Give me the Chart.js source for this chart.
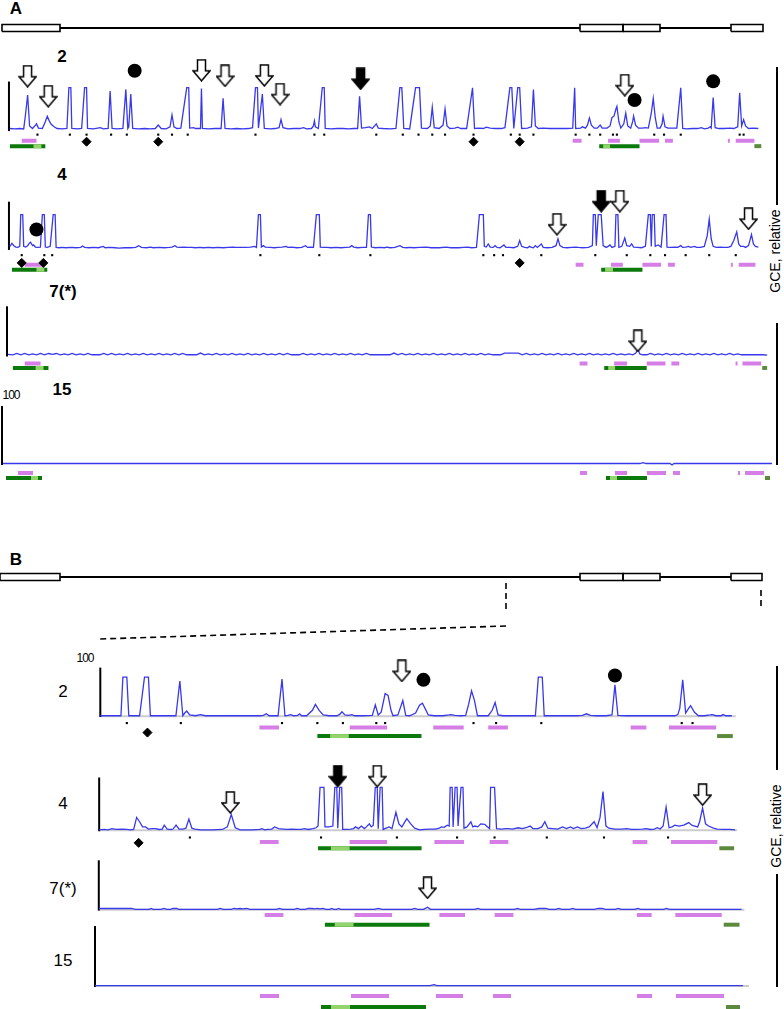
<!DOCTYPE html>
<html><head><meta charset="utf-8">
<script src="https://cdn.jsdelivr.net/npm/chart.js@4/dist/chart.umd.min.js"></script>
<style>
html,body{margin:0;padding:0;background:#fff}
body{width:784px;height:1009px;position:relative;overflow:hidden;font-family:"Liberation Sans",Arial,sans-serif;color:#000}
canvas{position:absolute;left:0}
.lbl{position:absolute;transform:translate(-50%,-50%);white-space:nowrap;line-height:1}
.b{font-weight:bold}
.bar{position:absolute;width:2px;background:#000}
</style></head>
<body>
<div class="lbl b" style="left:16px;top:8px;font-size:17px">A</div>
<div class="lbl b" style="left:16px;top:559px;font-size:17px">B</div>
<div class="lbl b" style="left:62px;top:56px;font-size:17px">2</div>
<div class="lbl b" style="left:62px;top:174px;font-size:17px">4</div>
<div class="lbl b" style="left:63px;top:291px;font-size:17px">7(*)</div>
<div class="lbl b" style="left:62px;top:389px;font-size:17px">15</div>
<div class="lbl" style="left:11px;top:395px;font-size:12px;letter-spacing:-1px">100</div>
<div class="lbl" style="left:63px;top:691px;font-size:17px">2</div>
<div class="lbl" style="left:63px;top:803px;font-size:17px">4</div>
<div class="lbl" style="left:63px;top:888px;font-size:17px">7(*)</div>
<div class="lbl" style="left:63px;top:960px;font-size:17px">15</div>
<div class="lbl" style="left:85px;top:658px;font-size:12px;letter-spacing:-1px">100</div>
<div class="lbl" style="left:775px;top:251px;font-size:14px;transform:translate(-50%,-50%) rotate(-90deg)">GCE, relative</div>
<div class="lbl" style="left:776px;top:826px;font-size:14px;transform:translate(-50%,-50%) rotate(-90deg)">GCE, relative</div>
<div class="bar" style="left:776px;top:67px;height:138px"></div>
<div class="bar" style="left:776px;top:323px;height:142px"></div>
<div class="bar" style="left:776px;top:666px;height:104px"></div>
<div class="bar" style="left:776px;top:874px;height:113px"></div>
<script>
// ---------------- DATA ----------------
// gene model (exon start/end positions)
const exonsA = [[2,60],[580,623],[623,660],[731,763]];
const exonsB = [[0,60],[580,623],[623,660],[731,762]];
const zoomRegion = [506, 761];      // region of the gene expanded in panel B
const zoomTraceStart = 100;

// Panel A traces [position, GCE %]
const A2_trace = [[3,4],[8,3],[13,4],[17,3],[19,40],[21,83],[23,10],[26,4],[29,12],[30,15],[32,5],[36,4],[39,20],[41,33],[43,22],[45,14],[48,8],[51,4],[56,3],[61,4],[63,100],[65,100],[66,4],[72,3],[76,4],[79,100],[81,100],[82,4],[88,3],[95,6],[98,3],[103,4],[105,92],[107,4],[112,3],[118,4],[121,96],[123,4],[124,8],[126,85],[128,4],[134,3],[140,4],[146,3],[151,4],[154,12],[157,4],[162,3],[166,8],[168,36],[170,8],[173,4],[177,5],[183,100],[185,100],[186,5],[190,6],[192,4],[197,4],[198,98],[199,4],[205,3],[212,4],[218,4],[220,75],[222,4],[228,3],[234,4],[240,3],[246,4],[250,6],[253,100],[255,100],[256,5],[260,85],[262,4],[268,3],[273,4],[277,6],[279,25],[281,6],[286,3],[292,4],[298,4],[302,6],[305,3],[310,4],[312,10],[313,22],[314,8],[317,4],[321,100],[323,100],[324,4],[330,3],[336,4],[342,4],[348,3],[353,4],[357,4],[359,80],[361,5],[365,6],[369,8],[372,4],[376,15],[378,5],[383,4],[390,3],[396,4],[400,100],[402,100],[404,4],[410,3],[416,100],[418,100],[420,100],[422,5],[428,4],[431,10],[433,54],[435,6],[440,4],[444,12],[446,50],[448,10],[451,4],[456,5],[459,7],[462,4],[468,4],[474,100],[476,4],[480,5],[485,4],[488,7],[492,5],[497,4],[503,4],[507,6],[512,100],[514,100],[516,4],[520,100],[522,100],[524,4],[530,5],[534,8],[536,96],[538,10],[541,4],[546,5],[552,4],[558,4],[564,4],[570,4],[576,5],[578,100],[579,4],[584,5],[586,8],[589,5],[591,12],[593,29],[595,12],[598,5],[601,5],[604,12],[606,5],[611,5],[614,10],[616,30],[618,33],[620,50],[621,56],[623,20],[625,5],[628,15],[630,40],[632,10],[635,5],[637,20],[638,33],[640,12],[643,5],[647,5],[650,6],[653,5],[656,40],[658,75],[660,30],[662,5],[665,5],[667,15],[668,33],[670,8],[673,5],[678,5],[682,5],[686,100],[688,4],[692,3],[698,4],[703,4],[707,6],[710,3],[714,5],[716,8],[717,5],[719,77],[721,6],[725,4],[730,4],[736,5],[740,4],[744,8],[746,88],[748,10],[750,25],[752,10],[755,4],[760,5],[765,4]];
const A4_trace = [[3,8],[5,17],[7,10],[9,6],[11,5],[13,8],[14,100],[16,100],[17,8],[19,6],[21,10],[23,18],[24,20],[26,10],[27,12],[29,6],[31,5],[34,6],[36,100],[38,100],[39,6],[41,5],[44,8],[47,100],[49,100],[50,5],[53,4],[56,5],[60,4],[66,5],[70,4],[75,5],[77,9],[79,5],[84,4],[88,5],[93,4],[98,8],[100,4],[105,5],[110,4],[114,3],[120,4],[126,4],[131,5],[134,10],[137,5],[142,4],[146,6],[149,4],[155,5],[160,4],[165,5],[168,6],[171,10],[173,6],[176,5],[180,6],[184,5],[188,5],[192,4],[196,5],[200,4],[205,5],[210,4],[215,5],[220,4],[225,5],[230,6],[233,5],[238,5],[243,5],[248,6],[252,8],[254,5],[256,100],[258,100],[259,6],[261,10],[263,6],[268,5],[272,4],[276,5],[280,6],[284,8],[286,5],[290,6],[295,4],[300,5],[304,10],[306,5],[309,6],[312,5],[315,100],[318,100],[319,6],[322,5],[326,5],[330,4],[335,5],[340,4],[345,5],[349,6],[351,10],[353,6],[357,4],[362,5],[366,5],[368,100],[370,100],[371,6],[375,4],[380,5],[384,4],[387,6],[390,4],[395,5],[400,10],[403,5],[407,4],[410,5],[414,4],[420,5],[427,6],[432,4],[440,4],[447,6],[452,4],[460,4],[465,5],[469,6],[473,4],[478,5],[481,100],[483,100],[485,100],[486,8],[488,6],[490,15],[492,6],[495,5],[497,10],[499,5],[502,4],[506,12],[508,5],[512,5],[516,4],[520,8],[522,25],[524,8],[527,5],[530,4],[532,8],[534,5],[536,4],[538,10],[540,5],[544,15],[546,5],[550,4],[555,5],[559,10],[561,30],[563,10],[566,5],[570,4],[575,5],[579,6],[582,5],[586,4],[592,5],[596,10],[597,100],[599,100],[600,10],[602,100],[605,100],[607,10],[610,5],[612,8],[614,12],[616,5],[619,8],[620,100],[622,100],[623,5],[626,8],[629,32],[631,10],[634,8],[636,15],[638,6],[642,5],[646,4],[650,8],[653,100],[655,100],[656,8],[657,100],[659,100],[660,8],[663,12],[666,6],[669,100],[671,100],[672,6],[676,5],[680,6],[683,5],[686,10],[688,5],[691,6],[694,8],[696,5],[700,8],[702,5],[706,5],[710,8],[713,40],[715,87],[717,30],[719,8],[722,5],[726,6],[730,5],[734,5],[737,8],[740,25],[743,50],[745,15],[747,8],[750,8],[752,5],[755,10],[758,42],[760,15],[762,8],[765,6]];
const A7_trace = [[3,3],[8,2],[12,5],[16,2],[20,5],[24,2],[28,4],[32,2],[36,5],[40,2],[44,5],[48,3],[52,5],[56,2],[60,4],[64,2],[68,5],[72,2],[76,4],[80,2],[84,5],[88,2],[92,2],[96,2],[100,5],[104,2],[108,5],[112,2],[116,4],[120,2],[124,5],[128,2],[132,4],[136,2],[140,5],[144,2],[148,4],[152,2],[156,5],[160,2],[164,4],[168,2],[172,5],[176,2],[180,5],[184,2],[188,2],[194,2],[198,6],[202,2],[206,4],[210,2],[214,5],[218,2],[222,4],[226,2],[230,5],[234,2],[238,4],[242,2],[246,5],[250,2],[254,4],[258,2],[262,5],[266,2],[270,4],[274,2],[278,5],[282,2],[286,5],[290,2],[294,2],[298,2],[302,5],[306,2],[310,4],[314,2],[318,5],[322,2],[326,4],[330,2],[334,5],[338,2],[342,4],[346,2],[350,5],[354,2],[358,4],[362,2],[366,5],[370,2],[374,2],[380,2],[386,2],[390,2],[394,6],[398,2],[402,5],[406,2],[410,4],[414,2],[418,5],[422,2],[426,4],[430,2],[434,5],[438,2],[442,4],[446,2],[450,5],[454,2],[458,4],[462,2],[466,5],[470,2],[474,4],[478,2],[482,5],[486,2],[490,4],[494,2],[498,2],[502,2],[506,6],[512,6],[520,6],[524,2],[528,5],[532,2],[536,4],[540,2],[544,5],[548,2],[552,4],[556,2],[560,5],[564,2],[568,4],[572,2],[576,5],[580,2],[584,4],[588,2],[592,5],[596,2],[600,4],[604,2],[608,4],[612,2],[616,5],[620,2],[624,4],[628,2],[632,4],[636,2],[639,6],[641,15],[643,4],[646,2],[650,2],[654,5],[658,2],[662,4],[666,2],[670,5],[674,2],[678,4],[682,2],[686,5],[690,2],[694,4],[698,2],[702,5],[706,2],[710,4],[714,2],[718,5],[722,2],[726,4],[730,2],[734,5],[738,2],[742,4],[746,2],[752,2],[760,2],[768,2],[772,1]];
const A15_trace = [[3,1],[200,1],[400,1],[600,1],[640,1],[643,3],[646,1],[670,1],[672,-2],[674,1],[772,1]];

// Panel B traces (zoomed region)
const B2_trace = [[95,1],[100,1],[110,1],[116,1],[118,100],[122,100],[124,1],[135,1],[140,100],[144,100],[146,1],[160,1],[172,1],[176,90],[179,1],[181,8],[183,13],[186,3],[192,1],[197,4],[202,1],[220,1],[240,1],[258,1],[261,2],[264,6],[267,1],[276,1],[280,95],[283,1],[286,2],[289,4],[292,1],[296,2],[298,6],[300,1],[305,1],[311,15],[314,30],[318,14],[322,3],[328,1],[336,1],[339,5],[341,11],[344,3],[348,2],[351,4],[354,1],[362,1],[372,2],[375,29],[378,3],[381,10],[385,58],[388,53],[391,15],[393,1],[398,3],[403,40],[406,2],[410,1],[416,8],[420,28],[423,33],[426,18],[429,3],[435,1],[444,1],[450,3],[452,4],[456,2],[462,1],[467,2],[470,30],[473,65],[476,40],[479,1],[490,1],[494,15],[497,35],[500,3],[505,1],[520,1],[538,1],[541,100],[545,100],[547,1],[560,1],[580,1],[586,2],[590,6],[594,2],[600,1],[610,1],[616,3],[619,80],[622,2],[630,1],[650,1],[670,1],[680,1],[683,4],[685,20],[688,93],[691,8],[694,20],[696,27],[700,10],[704,1],[710,1],[716,3],[718,4],[722,1],[727,1],[729,4],[732,1],[738,1]];
const B4_trace = [[95,1],[100,2],[104,1],[108,4],[112,2],[118,3],[123,2],[127,1],[130,2],[133,30],[136,20],[139,8],[142,8],[145,3],[149,4],[152,4],[156,2],[159,3],[161,12],[164,3],[168,2],[170,3],[173,12],[176,3],[180,3],[183,5],[186,26],[189,5],[192,3],[198,1],[210,1],[220,2],[225,8],[229,37],[233,6],[238,1],[250,1],[258,2],[260,4],[263,1],[266,2],[270,3],[273,8],[277,4],[282,3],[286,2],[290,3],[296,2],[300,2],[303,4],[307,2],[312,4],[315,6],[317,10],[319,100],[321,100],[323,100],[324,8],[328,8],[332,10],[334,100],[336,100],[337,5],[339,100],[341,100],[342,2],[346,2],[350,3],[353,4],[355,8],[358,4],[361,10],[364,4],[366,8],[369,15],[371,8],[373,12],[375,100],[377,100],[378,4],[380,100],[382,100],[383,2],[386,5],[389,8],[392,4],[396,42],[399,15],[402,8],[407,27],[411,15],[415,5],[420,1],[425,2],[430,3],[436,3],[440,5],[442,8],[445,7],[448,12],[450,10],[451,100],[453,100],[454,8],[456,100],[458,100],[459,10],[462,100],[464,100],[465,5],[468,8],[472,20],[474,8],[476,10],[479,8],[482,15],[486,14],[489,8],[491,4],[492,100],[496,100],[498,4],[503,3],[507,4],[510,4],[514,3],[520,6],[524,4],[528,6],[532,10],[535,4],[540,4],[544,8],[547,20],[550,5],[555,4],[560,3],[565,8],[569,4],[573,8],[576,4],[580,8],[584,4],[588,5],[592,8],[597,20],[600,6],[603,30],[606,90],[609,10],[612,5],[618,3],[625,3],[630,4],[635,2],[640,2],[646,3],[650,4],[654,2],[658,3],[661,6],[664,3],[667,10],[670,54],[673,6],[676,8],[679,12],[683,10],[688,12],[693,18],[696,12],[699,10],[702,8],[704,20],[707,52],[710,15],[713,10],[718,5],[722,3],[728,2],[735,2],[740,1]];
const B7_trace = [[95,3],[110,3],[128,3],[132,1],[140,1],[146,1],[148,3],[150,1],[158,1],[161,3],[164,1],[168,1],[170,3],[174,3],[176,1],[200,1],[215,1],[218,3],[221,1],[229,1],[232,3],[235,2],[238,3],[241,2],[245,3],[248,1],[275,1],[278,3],[281,1],[293,1],[296,3],[299,1],[304,1],[307,3],[311,3],[314,2],[316,3],[319,2],[322,3],[325,1],[329,1],[331,3],[333,1],[336,1],[338,3],[340,1],[374,1],[378,3],[382,1],[412,1],[415,3],[418,1],[424,1],[428,6],[431,1],[476,1],[479,3],[482,1],[516,1],[519,3],[522,1],[536,1],[541,3],[545,3],[548,3],[551,1],[558,1],[561,3],[564,1],[572,1],[575,3],[578,1],[597,1],[601,3],[605,3],[608,1],[618,1],[621,3],[624,1],[638,1],[641,3],[644,1],[667,1],[670,3],[673,1],[746,1]];
const B15_trace = [[95,1],[430,1],[434,3],[437,1],[743,1]];

// marks: CpG dots, diamonds, arrows, circles
const A2_dots = [31,64,81,106,122,154,168,184,253,313,323,376,403,419,433,446,475,513,522,536,579,593,604,617,621,659,669,686,746,750];
const A2_diamonds = [81,154,475,522];
const A4_dots = [15,38,46,258,318,370,485,496,505,544,599,631,655,670,691,715,742];
const A4_diamonds = [15,37,522];
const B2_dots = [122,177,280,316,342,376,385,475,498,544,687,698];
const B2_diamonds = [143];
const B4_dots = [187,320,397,458,496,549,607,672];
const B4_diamonds = [135];
// arrows / circles: [position, level]
const A2_openArrows = [[21,127],[42,80],[198,141],[222,128],[262,129],[278,85],[629,106]];
const A2_filledArrows = [[360,121]];
const A2_circles = [[130,140],[639,71],[719,115]];
const A4_openArrows = [[560,72],[624,139],[755,88]];
const A4_filledArrows = [[605,139]];
const A4_circles = [[30,57]];
const A7_openArrows = [[641,35]];
const B2_openArrows = [[402,116]];
const B2_circles = [[424,93],[619,104]];
const B4_openArrows = [[228,65],[377,126],[707,83]];
const B4_filledArrows = [[337,126]];
const B7_openArrows = [[428,54]];

// region bars: pink, green (with light sub-part), olive
const A2_pink = [[15,30],[576,585],[612,624],[644,664],[670,678],[734,736],[742,761]];
const A2_green = [[3,39],[603,644]];  const A2_light = [[27,35],[607,614]];  const A2_olive = [[761,768]];
const A4_pink = [[18,36],[579,587],[615,627],[647,666],[673,680],[737,739],[745,762]];
const A4_green = [[5,41],[605,647]];  const A4_light = [[30,38],[609,617]];  const A4_olive = [];
const A7_pink = [[20,36],[582,590],[617,630],[650,669],[675,683],[740,742],[747,766]];
const A7_green = [[8,44],[607,650]];  const A7_light = [[31,39],[611,618]];  const A7_olive = [[767,772]];
const A15_pink = [[18,33],[580,587],[615,627],[647,666],[673,680],[738,740],[745,764]];
const A15_green = [[6,42],[606,647]]; const A15_light = [[31,38],[610,617]]; const A15_olive = [[765,770]];
const B2_pink = [[257,277],[349,387],[434,465],[490,510],[635,651],[674,722]];
const B2_green = [[316,422]]; const B2_light = [[329,348]]; const B2_olive = [[723,739]];
const B4_pink = [[258,277],[349,387],[435,465],[491,510],[636,651],[675,722]];
const B4_green = [[317,422]]; const B4_light = [[330,349]]; const B4_olive = [[724,739]];
const B7_pink = [[263,282],[354,392],[440,466],[496,515],[640,655],[679,726]];
const B7_green = [[324,430]]; const B7_light = [[334,353]]; const B7_olive = [[728,744]];
const B15_pink = [[260,279],[351,389],[436,463],[493,511],[637,652],[676,724]];
const B15_green = [[321,426]]; const B15_light = [[331,350]]; const B15_olive = [[726,740]];

// ---------------- DRAWING ----------------
const BLUE = '#3838ec', PINK = '#d57ee6', GREEN = '#0b790b', LIGHT = '#93d46c', OLIVE = '#5c8a3c';
const W = 784;
function arrowImg(filled){
  const c = document.createElement('canvas'); c.width = 19; c.height = 23;
  const g = c.getContext('2d');
  g.beginPath();
  g.moveTo(5.5,1); g.lineTo(13.5,1); g.lineTo(13.5,12); g.lineTo(18,12); g.lineTo(9.5,22); g.lineTo(1,12); g.lineTo(5.5,12); g.closePath();
  g.fillStyle = filled ? '#000' : '#fff'; g.fill();
  g.lineWidth = 1.5; g.strokeStyle = '#000'; g.stroke();
  return c;
}
const OPEN = arrowImg(false), FILLED = arrowImg(true);

function baseOpts(yMin, yMax){
  return {responsive:false, animation:false, events:[], layout:{padding:0},
    plugins:{legend:{display:false}, tooltip:{enabled:false}},
    elements:{point:{radius:0}, line:{tension:0, borderCapStyle:'butt'}},
    scales:{x:{type:'linear', display:false, min:0, max:W}, y:{type:'linear', display:false, min:yMin, max:yMax}}};
}
// later datasets are painted on top of earlier ones
function stackOrder(ds){ ds.forEach((d, i) => { d.order = ds.length - i; }); return ds; }
function addCanvas(top, h){
  const cv = document.createElement('canvas'); cv.width = W; cv.height = h; cv.style.top = top + 'px';
  document.body.appendChild(cv); return cv;
}
function rangeData(ranges, y){
  const d = [];
  ranges.forEach(([a,b]) => { d.push({x:a,y}, {x:b,y}, {x:b,y:null}); });
  return d;
}
function pts(list, y){ return list.map(x => ({x, y})); }
function pairPts(list){ return list.map(([x,y]) => ({x, y})); }

function traceChart(c){
  const cv = addCanvas(c.top, c.h);
  const val = px => (c.base - px) / c.unit * 100;
  const ds = [];
  if (c.gray) ds.push({data:[{x:c.gray[0],y:0},{x:c.gray[1],y:0}], borderColor:'#cccccc', borderWidth:2});
  ds.push({data:[{x:c.axisX,y:val(c.base+1)},{x:c.axisX,y:val(c.axisTop)}], borderColor:'#000', borderWidth:2});
  ds.push({data:pairPts(c.trace), borderColor:BLUE, borderWidth:1.3});
  const barRow = (ranges, px, col) => { if (ranges && ranges.length) ds.push({data:rangeData(ranges, val(px)), borderColor:col, borderWidth:4, spanGaps:false}); };
  barRow(c.pink, c.pinkPx, PINK);
  barRow(c.green, c.greenPx, GREEN);
  barRow(c.light, c.greenPx, LIGHT);
  barRow(c.olive, c.greenPx, OLIVE);
  const mark = (data, style, r, fill, bw) => ds.push({data, showLine:false, pointStyle:style, pointRadius:r, pointBackgroundColor:fill, pointBorderColor:'#000', pointBorderWidth:bw, clip:false});
  if (c.dots) mark(pts(c.dots, val(c.dotPx)), 'rect', 1.5, '#000', 0);
  if (c.diamonds) mark(pts(c.diamonds, val(c.diamondPx)), 'rectRot', 4.5, '#000', 1);
  if (c.circles) mark(pairPts(c.circles), 'circle', 7, '#000', 0);
  if (c.openArrows) mark(pairPts(c.openArrows), OPEN, 5, '#fff', 0);
  if (c.filledArrows) mark(pairPts(c.filledArrows), FILLED, 5, '#000', 0);
  new Chart(cv, {type:'line', data:{datasets:stackOrder(ds)}, options:baseOpts(val(c.top + c.h), val(c.top))});
}

// gene models
function geneChart(exons, top, h, lineRow, extra){
  const cv = addCanvas(top, h);
  const val = px => lineRow - px;           // 1 unit = 1 px, 0 at the gene backbone
  const ds = [];
  const bb = [];
  for (let i = 0; i < exons.length - 1; i++) bb.push([exons[i][1], exons[i+1][0]]);
  ds.push({data:rangeData(bb, 0), borderColor:'#000', borderWidth:1.8});
  const hh = 3.5;
  exons.forEach(([s,e]) => ds.push({data:[{x:s,y:-hh},{x:e,y:-hh},{x:e,y:hh},{x:s,y:hh},{x:s,y:-hh}], borderColor:'#000', borderWidth:1.6}));
  if (extra) extra(ds, val);
  new Chart(cv, {type:'line', data:{datasets:stackOrder(ds)}, options:baseOpts(val(top + h), val(top))});
}
geneChart(exonsA, 14, 28, 28);
geneChart(exonsB, 562, 88, 577, (ds, val) => {
  const dash = {borderColor:'#000', borderWidth:1.6, borderDash:[6,4]};
  ds.push(Object.assign({data:[{x:zoomRegion[0],y:val(583)},{x:zoomRegion[0],y:val(612)}]}, dash));
  ds.push(Object.assign({data:[{x:zoomRegion[1],y:val(590)},{x:zoomRegion[1],y:val(610)}]}, dash));
  ds.push(Object.assign({data:[{x:zoomRegion[0],y:val(626)},{x:zoomTraceStart,y:val(639)}]}, dash));
});

// Panel A
traceChart({top:40, h:122, base:134, unit:48, axisX:2, axisTop:79, trace:A2_trace,
  dots:A2_dots, dotPx:139, diamonds:A2_diamonds, diamondPx:147,
  pink:A2_pink, pinkPx:146, green:A2_green, light:A2_light, olive:A2_olive, greenPx:152,
  openArrows:A2_openArrows, filledArrows:A2_filledArrows, circles:A2_circles});
traceChart({top:180, h:102, base:252, unit:40, axisX:2, axisTop:197, trace:A4_trace,
  dots:A4_dots, dotPx:259, diamonds:A4_diamonds, diamondPx:268,
  pink:A4_pink, pinkPx:270, green:A4_green, light:A4_light, olive:A4_olive, greenPx:276,
  openArrows:A4_openArrows, filledArrows:A4_filledArrows, circles:A4_circles});
traceChart({top:296, h:84, base:358, unit:48, axisX:2, axisTop:302, trace:A7_trace,
  pink:A7_pink, pinkPx:367, green:A7_green, light:A7_light, olive:A7_olive, greenPx:372,
  openArrows:A7_openArrows});
traceChart({top:400, h:85, base:464, unit:48, axisX:2, axisTop:406, trace:A15_trace,
  pink:A15_pink, pinkPx:473, green:A15_green, light:A15_light, olive:A15_olive, greenPx:478});

// Panel B
traceChart({top:645, h:105, base:719, unit:45, axisX:95, axisTop:663, gray:[95,742], trace:B2_trace,
  dots:B2_dots, dotPx:727, diamonds:B2_diamonds, diamondPx:738,
  pink:B2_pink, pinkPx:732, green:B2_green, light:B2_light, olive:B2_olive, greenPx:742,
  openArrows:B2_openArrows, circles:B2_circles});
traceChart({top:755, h:105, base:833, unit:48, axisX:95, axisTop:774, gray:[95,742], trace:B4_trace,
  dots:B4_dots, dotPx:841, diamonds:B4_diamonds, diamondPx:847,
  pink:B4_pink, pinkPx:846, green:B4_green, light:B4_light, olive:B4_olive, greenPx:853,
  openArrows:B4_openArrows, filledArrows:B4_filledArrows});
traceChart({top:850, h:85, base:912, unit:46, axisX:95, axisTop:856, gray:[95,749], trace:B7_trace,
  pink:B7_pink, pinkPx:918, green:B7_green, light:B7_light, olive:B7_olive, greenPx:929,
  openArrows:B7_openArrows});
traceChart({top:920, h:89, base:986, unit:46, axisX:95, axisTop:926, gray:[95,749], trace:B15_trace,
  pink:B15_pink, pinkPx:996, green:B15_green, light:B15_light, olive:B15_olive, greenPx:1007});
</script>
</body></html>
